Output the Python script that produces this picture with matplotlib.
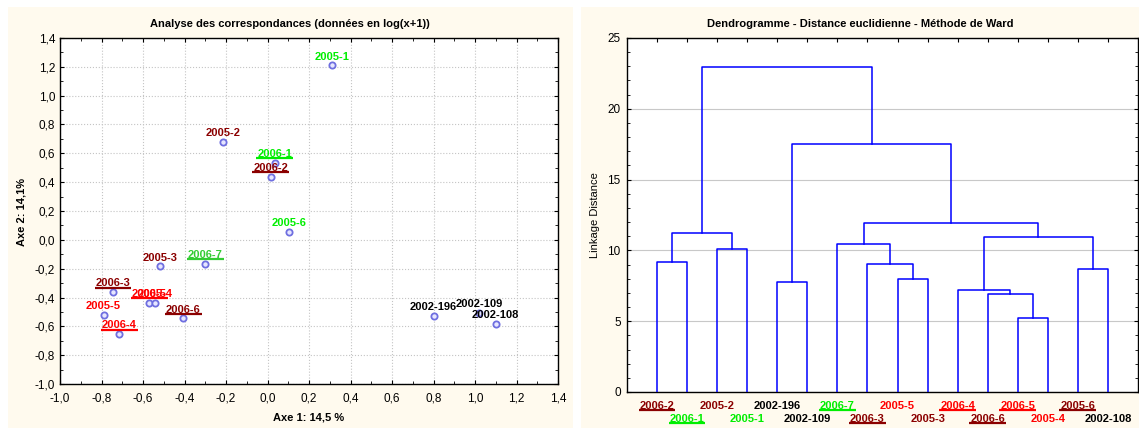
import matplotlib
matplotlib.use('Agg')
import matplotlib.pyplot as plt
from matplotlib.patches import Rectangle
from matplotlib.lines import Line2D
from matplotlib.transforms import IdentityTransform
from matplotlib.ticker import MultipleLocator, FuncFormatter

plt.rcParams['font.family'] = ['Liberation Sans', 'DejaVu Sans']

GREEN = '#00ee00'
DKRED = '#8b0000'
RED = '#ff0000'
BLACK = '#000000'

# correspondence analysis coordinates
ca_names = ['2005-1', '2005-2', '2006-1', '2006-2', '2005-6', '2006-7',
            '2005-3', '2006-3', '2006-5', '2005-4', '2005-5', '2006-6',
            '2006-4', '2002-196', '2002-109', '2002-108']
ca_x = [0.31, -0.215, 0.035, 0.015, 0.105, -0.30,
        -0.52, -0.745, -0.57, -0.54, -0.79, -0.405,
        -0.715, 0.80, 1.02, 1.10]
ca_y = [1.21, 0.68, 0.535, 0.435, 0.055, -0.166,
        -0.184, -0.364, -0.438, -0.438, -0.52, -0.545,
        -0.655, -0.53, -0.505, -0.585]
ca_colors = [GREEN, DKRED, GREEN, DKRED, GREEN, '#33cc33',
             DKRED, DKRED, RED, RED, RED, DKRED,
             RED, BLACK, BLACK, BLACK]
ca_under = [False, False, True, True, False, True,
            False, True, True, False, False, True,
            True, False, False, False]

# dendrogram (Ward), leaves in display order
leaf_names = ['2006-2', '2006-1', '2005-2', '2005-1', '2002-196', '2002-109',
              '2006-7', '2006-3', '2005-5', '2005-3', '2006-4', '2006-6',
              '2006-5', '2005-4', '2005-6', '2002-108']
leaf_colors = [DKRED, GREEN, DKRED, GREEN, BLACK, BLACK,
               GREEN, DKRED, RED, DKRED, RED, DKRED,
               RED, RED, DKRED, BLACK]
leaf_under = [True, True, False, False, False, False,
              True, True, False, False, True, True,
              True, False, True, False]
# (left, right, height): index < 16 is a leaf, otherwise merge index - 16
merges = [
    (0, 1, 9.2),
    (2, 3, 10.07),
    (16, 17, 11.2),
    (4, 5, 7.8),
    (8, 9, 7.95),
    (7, 20, 9.06),
    (6, 21, 10.45),
    (12, 13, 5.2),
    (11, 23, 6.92),
    (10, 24, 7.18),
    (14, 15, 8.68),
    (25, 26, 10.94),
    (22, 27, 11.95),
    (19, 28, 17.5),
    (18, 29, 22.96),
]

W, H = 1139, 428
fig = plt.figure(figsize=(W / 100, H / 100), dpi=100, facecolor='white')

cream = '#fffaee'
fig.add_artist(Rectangle((8 / W, 0), 565 / W, 421 / H, transform=fig.transFigure,
                         facecolor=cream, edgecolor='none', zorder=-5))
fig.add_artist(Rectangle((581 / W, 0), 558 / W, 421 / H, transform=fig.transFigure,
                         facecolor=cream, edgecolor='none', zorder=-5))

# ---- left: correspondence analysis ----
ax1 = fig.add_axes([60 / W, (H - 384) / H, 498 / W, 346 / H])
ax1.set_facecolor('white')
ax1.set_xlim(-1.0, 1.4)
ax1.set_ylim(-1.0, 1.4)
comma = FuncFormatter(lambda v, p: ('%.1f' % (round(v, 2) + 0.0)).replace('.', ','))
for axis in (ax1.xaxis, ax1.yaxis):
    axis.set_major_locator(MultipleLocator(0.2))
    axis.set_minor_locator(MultipleLocator(0.1))
    axis.set_major_formatter(comma)
ax1.grid(True, which='major', color='#c4c4c4', linestyle=':', linewidth=0.8)
ax1.tick_params(which='both', direction='in', top=True, right=True,
                labelsize=8.5, colors='black')
ax1.tick_params(which='major', length=3)
ax1.tick_params(which='minor', length=2)
ax1.tick_params(axis='x', pad=6)
ax1.tick_params(axis='y', pad=3.5)
for s in ax1.spines.values():
    s.set_linewidth(1.0)

ax1.plot(ca_x, ca_y, linestyle='none', marker='o', ms=4.5, mfc='#e6e6ff',
         mec='#6f6fe0', mew=1.3, zorder=3)
ca_texts = []
for n, x, y, c in zip(ca_names, ca_x, ca_y, ca_colors):
    t = ax1.annotate(n, (x, y), xytext=(0, 4.2), textcoords='offset points',
                     ha='center', va='baseline', color=c, fontsize=8,
                     fontweight='bold', zorder=4)
    ca_texts.append(t)

fig.text(290 / W, 1 - 24 / H, 'Analyse des correspondances (données en log(x+1))',
         ha='center', va='center', fontsize=8, fontweight='bold')
fig.text(309 / W, 1 - 418 / H, 'Axe 1: 14,5 %', ha='center', va='center',
         fontsize=8, fontweight='bold')
fig.text(21 / W, 1 - 212 / H, 'Axe 2: 14,1%', ha='center', va='center',
         rotation=90, fontsize=8, fontweight='bold')

# ---- right: dendrogram ----
ax2 = fig.add_axes([627 / W, (H - 392) / H, 511 / W, 354 / H])
ax2.set_facecolor('white')
n_leaf = len(leaf_names)
ax2.set_xlim(0, n_leaf + 1)
ax2.set_ylim(0, 25)
ax2.yaxis.set_major_locator(MultipleLocator(5))
ax2.yaxis.set_minor_locator(MultipleLocator(1))
ax2.set_xticks(range(1, n_leaf + 1))
ax2.tick_params(axis='x', which='both', bottom=False, top=True, direction='in',
                labelbottom=False, length=3)
ax2.tick_params(axis='y', which='both', left=True, right=True, direction='in',
                labelsize=8.5, pad=4.5)
ax2.tick_params(axis='y', which='major', length=3)
ax2.tick_params(axis='y', which='minor', length=2)
ax2.grid(True, axis='y', color='#c8c8c8', linestyle='-', linewidth=0.8)
for s in ax2.spines.values():
    s.set_linewidth(1.0)

node_x = [i + 1 for i in range(n_leaf)]
node_h = [0.0] * n_leaf
for a, b, h in merges:
    xa, xb = node_x[a], node_x[b]
    ax2.plot([xa, xa, xb, xb], [node_h[a], h, h, node_h[b]], color='#0000ff',
             linewidth=1.1, zorder=3)
    node_x.append((xa + xb) / 2)
    node_h.append(h)

leaf_texts = []
for i, (n, c) in enumerate(zip(leaf_names, leaf_colors)):
    yy = -0.04 if i % 2 == 0 else -0.077
    t = ax2.text(i + 1, yy, n, transform=ax2.get_xaxis_transform(), ha='center',
                 va='center', color=c, fontsize=8, fontweight='bold', clip_on=False)
    leaf_texts.append(t)

fig.text(860 / W, 1 - 24 / H, 'Dendrogramme - Distance euclidienne - Méthode de Ward',
         ha='center', va='center', fontsize=8, fontweight='bold')
fig.text(595 / W, 1 - 215 / H, 'Linkage Distance', ha='center', va='center',
         rotation=90, fontsize=8)

# underlines below selected labels
fig.canvas.draw()
rend = fig.canvas.get_renderer()
for t, u, c in list(zip(ca_texts, ca_under, ca_colors)) + list(zip(leaf_texts, leaf_under, leaf_colors)):
    if not u:
        continue
    bb = t.get_window_extent(rend)
    fig.add_artist(Line2D([bb.x0 - 1, bb.x1 + 1], [bb.y0 + 0.8, bb.y0 + 0.8],
                          transform=IdentityTransform(), color=c, linewidth=1.6,
                          solid_capstyle='butt', zorder=10))

fig.savefig('out.png', dpi=100, facecolor='white')
